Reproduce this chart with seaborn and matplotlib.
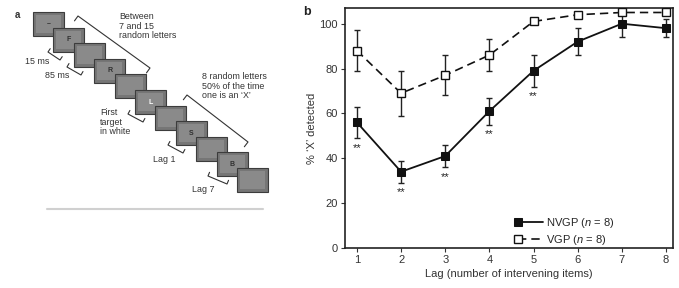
import numpy as np
import pandas as pd
import matplotlib
matplotlib.use("Agg")
import matplotlib.pyplot as plt
import seaborn as sns
from matplotlib.patches import Rectangle
from matplotlib.legend_handler import HandlerLine2D
from matplotlib.lines import Line2D

# --- data ---
lags = [1, 2, 3, 4, 5, 6, 7, 8]
nvgp = [56, 34, 41, 61, 79, 92, 100, 98]
nvgp_err = [7, 5, 5, 6, 7, 6, 6, 4]
vgp = [88, 69, 77, 86, 101, 104, 105, 105]
vgp_err = [9, 10, 9, 7, 1, 1, 1, 1]
star_lags = [1, 2, 3, 4, 5]
y_ticks = [0, 20, 40, 60, 80, 100]

# letters shown on the screens of panel a
screen_letters = {0: "–", 1: "F", 3: "R", 5: "L", 7: "S", 9: "B"}

sns.set_style("ticks")
plt.rcParams['font.family'] = ['Liberation Sans', 'DejaVu Sans']
plt.rcParams['mathtext.fontset'] = 'custom'
plt.rcParams['mathtext.it'] = 'Liberation Sans:italic'
plt.rcParams['mathtext.rm'] = 'Liberation Sans'

fig = plt.figure(figsize=(6.79, 2.88), dpi=100)

# ---------------------------------------------------------
# panel a : RSVP diagram (drawn in pixel coordinates)
# ---------------------------------------------------------
axa = fig.add_axes([0, 0, 0.5, 1])
axa.set_xlim(0, 339.5)
axa.set_ylim(288, 0)
axa.axis('off')

x0, y0, dx, dy, w, h = 33, 12, 20.4, 15.6, 31, 24
for i in range(11):
    x, y = x0 + i * dx, y0 + i * dy
    axa.add_patch(Rectangle((x, y), w, h, fc='#767676', ec='#3c3c3c', lw=0.8, zorder=i + 1))
    axa.add_patch(Rectangle((x + 3, y + 3), w - 6, h - 6, fc='#8a8a8a', ec='none', zorder=i + 1))
    if i in screen_letters:
        col = 'white' if i == 5 else '#303030'
        axa.text(x + w / 2, y + h / 2, screen_letters[i], color=col, fontsize=5,
                 fontweight='bold', ha='center', va='center', zorder=i + 1)


def bracket(ax, a, b, hook, toward_screen_down=True):
    a, b = np.array(a, float), np.array(b, float)
    u = (b - a) / np.linalg.norm(b - a)
    n = np.array([-u[1], u[0]]) if toward_screen_down else np.array([u[1], -u[0]])
    pts = np.array([a + n * hook, a, b, b + n * hook])
    ax.plot(pts[:, 0], pts[:, 1], color='#333333', lw=0.8, zorder=20)


bracket(axa, (78, 16), (150, 68), 6)
bracket(axa, (187, 95), (248, 142), 6)
bracket(axa, (48, 52), (60, 60), 4, False)
bracket(axa, (67, 67), (81, 75), 4, False)
bracket(axa, (128, 114), (143, 122), 4, False)
bracket(axa, (168, 145), (183, 153), 4, False)
bracket(axa, (208, 176), (227, 184), 4, False)

tkw = dict(fontsize=6.4, color='#333333', linespacing=1.1, zorder=30)
axa.text(119, 12, "Between\n7 and 15\nrandom letters", va='top', **tkw)
axa.text(202, 72, "8 random letters\n50% of the time\none is an ‘X’", va='top', **tkw)
axa.text(100, 108, "First\ntarget\nin white", va='top', **tkw)
axa.text(25, 62, "15 ms", va='center', **tkw)
axa.text(45, 76, "85 ms", va='center', **tkw)
axa.text(153, 160, "Lag 1", va='center', **tkw)
axa.text(192, 189, "Lag 7", va='center', **tkw)
axa.text(15, 15, "a", fontsize=7, fontweight='bold', color='#333333', va='center')
axa.plot([47, 263], [209, 209], color='#d0d0d0', lw=1.5)

# ---------------------------------------------------------
# panel b : detection vs lag
# ---------------------------------------------------------
ax = fig.add_axes([345 / 679, 40 / 288, 328 / 679, 240 / 288])

ax.errorbar(lags, nvgp, yerr=nvgp_err, fmt='none', ecolor='#222222',
            elinewidth=1, capsize=2, capthick=1, zorder=2)
ax.errorbar(lags, vgp, yerr=vgp_err, fmt='none', ecolor='#222222',
            elinewidth=1, capsize=2, capthick=1, zorder=2)

sns.lineplot(x=lags, y=nvgp, ax=ax, color='#111111', lw=1.3, marker='s', markersize=6,
             markerfacecolor='#111111', markeredgecolor='#111111',
             label='NVGP ($n$ = 8)', zorder=4)
sns.lineplot(x=lags, y=vgp, ax=ax, color='#111111', lw=1.2, linestyle=(0, (5, 3)),
             marker='s', markersize=6, markerfacecolor='white', markeredgecolor='#111111',
             markeredgewidth=1, label='VGP ($n$ = 8)', zorder=3)

for lag in star_lags:
    i = lags.index(lag)
    ax.text(lag, nvgp[i] - nvgp_err[i] - 2, "**", ha='center', va='top',
            fontsize=8, color='#222222')

ax.set_xlim(0.73, 8.16)
ax.set_ylim(0, 107)
ax.set_xticks(lags)
ax.set_yticks(y_ticks)
ax.tick_params(labelsize=8, length=3, width=0.8, pad=2, colors='#333333')
for s in ax.spines.values():
    s.set_visible(True)
    s.set_linewidth(1.2)
    s.set_color('#222222')
ax.set_xlabel("Lag (number of intervening items)", fontsize=8, color='#333333', labelpad=3)
ax.set_ylabel("% ‘X’ detected", fontsize=8, color='#333333', labelpad=2)


class MarkerLeft(HandlerLine2D):
    def create_artists(self, *args, **kwargs):
        arts = super().create_artists(*args, **kwargs)
        for a in arts:
            if isinstance(a, Line2D):
                a.set_markevery([0])
        return arts


ax.legend(loc='lower left', bbox_to_anchor=(0.515, -0.015), borderaxespad=0,
          frameon=False, fontsize=8, handlelength=2.2, handletextpad=0.3,
          labelspacing=0.3, numpoints=1,
          handler_map={Line2D: MarkerLeft(numpoints=1)})

fig.text(303 / 679, 1 - 12 / 288, "b", fontsize=9, fontweight='bold', color='#222222',
         va='center')

fig.savefig("out.png", dpi=100)
